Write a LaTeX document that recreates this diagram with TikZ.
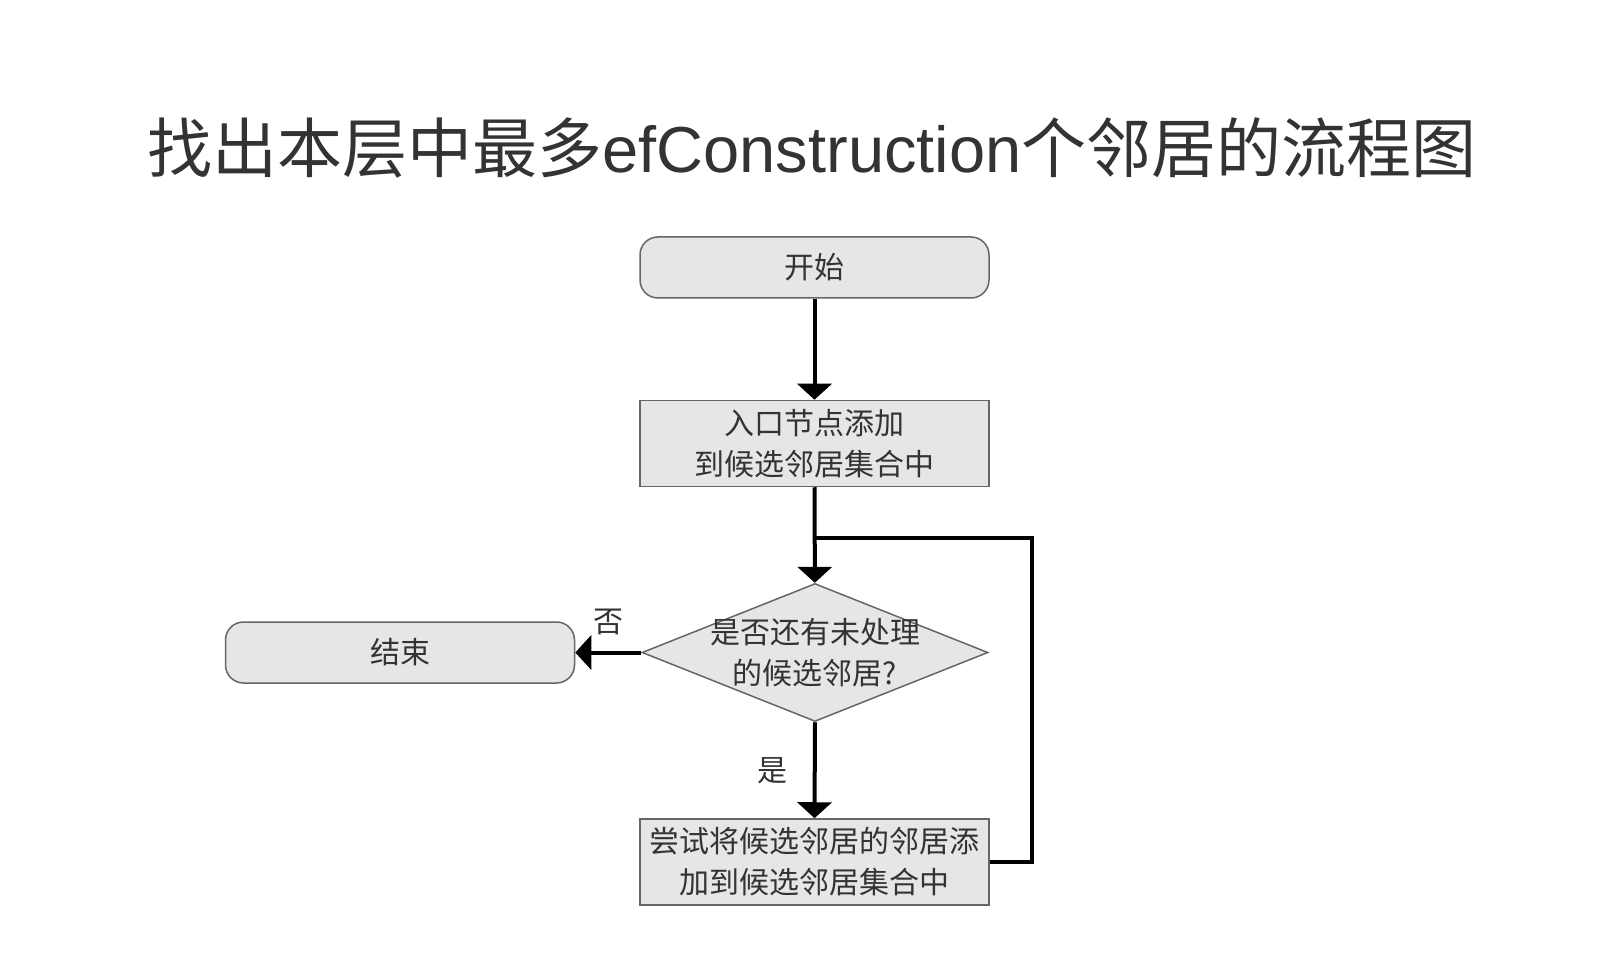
\documentclass[tikz,border=0pt]{standalone}
\usepackage{fontspec}
\setmainfont{Noto Sans CJK SC}
\newfontfamily\latinsans{Liberation Sans}
\usetikzlibrary{arrows.meta,shapes.geometric,positioning}
\definecolor{boxfill}{HTML}{E6E6E6}
\definecolor{boxline}{HTML}{666666}
\definecolor{inkgray}{HTML}{333333}

\begin{document}
\begin{tikzpicture}[
      x=1pt, y=1pt,
      terminal/.style={draw=boxline,fill=boxfill,line width=1.5pt,rounded corners=18pt,
        minimum width=349pt,minimum height=61pt,inner sep=0pt},
      process/.style={draw=boxline,fill=boxfill,line width=1.5pt,
        minimum width=349pt,minimum height=86pt,inner sep=0pt},
      decision/.style={draw=boxline,fill=boxfill,line width=1.5pt,diamond,
        minimum width=346pt,minimum height=138pt,inner sep=0pt},
      boxtext/.style={text=inkgray,align=center,font=\fontsize{30pt}{41pt}\selectfont},
      flow/.style={line width=4pt,-{Triangle[width=34pt,length=16pt]}},
      answer/.style={text=inkgray,font=\fontsize{30pt}{36pt}\selectfont}
    ]
    \useasboundingbox (0,0) rectangle (1618,-976);
    % Draw the title.
    \node[text=inkgray,font=\fontsize{65pt}{72pt}\selectfont] (title) at (812,-148)
      {找出本层中最多{\latinsans efConstruction}个邻居的流程图};
    % Draw the steps.
    \node[terminal,boxtext] (start) at (814.5,-267.5) {开始};
    \node[process,boxtext] (addentry) at (814.5,-443.5) {入口节点添加\\到候选邻居集合中};
    \node[decision] (check) at (815,-652.5) {};
    \node[boxtext] (checktext) at (check.center) {是否还有未处理\\的候选邻居?};
    \node[terminal,boxtext] (finish) at (400,-652.5) {结束};
    \node[process,boxtext] (tryadd) at (814.5,-862) {尝试将候选邻居的邻居添\\加到候选邻居集合中};
    \coordinate (merge) at (814.5,-538);
    \coordinate (loopturn) at (1032,-538);
    % Draw the connectors.
    \draw[flow] (check.west) -- (finish.east) node[midway,above=12pt,answer] (nolabel) {否};
    \draw[flow] (start) -- (addentry);
    \draw[flow] (addentry) -- (check);
    \draw[flow] (check.south) -- (tryadd.north) node[midway,left=22pt,answer] (yeslabel) {是};
    \draw[line width=4pt] (tryadd.east) -| (loopturn) -- (merge);
\end{tikzpicture}
\end{document}
